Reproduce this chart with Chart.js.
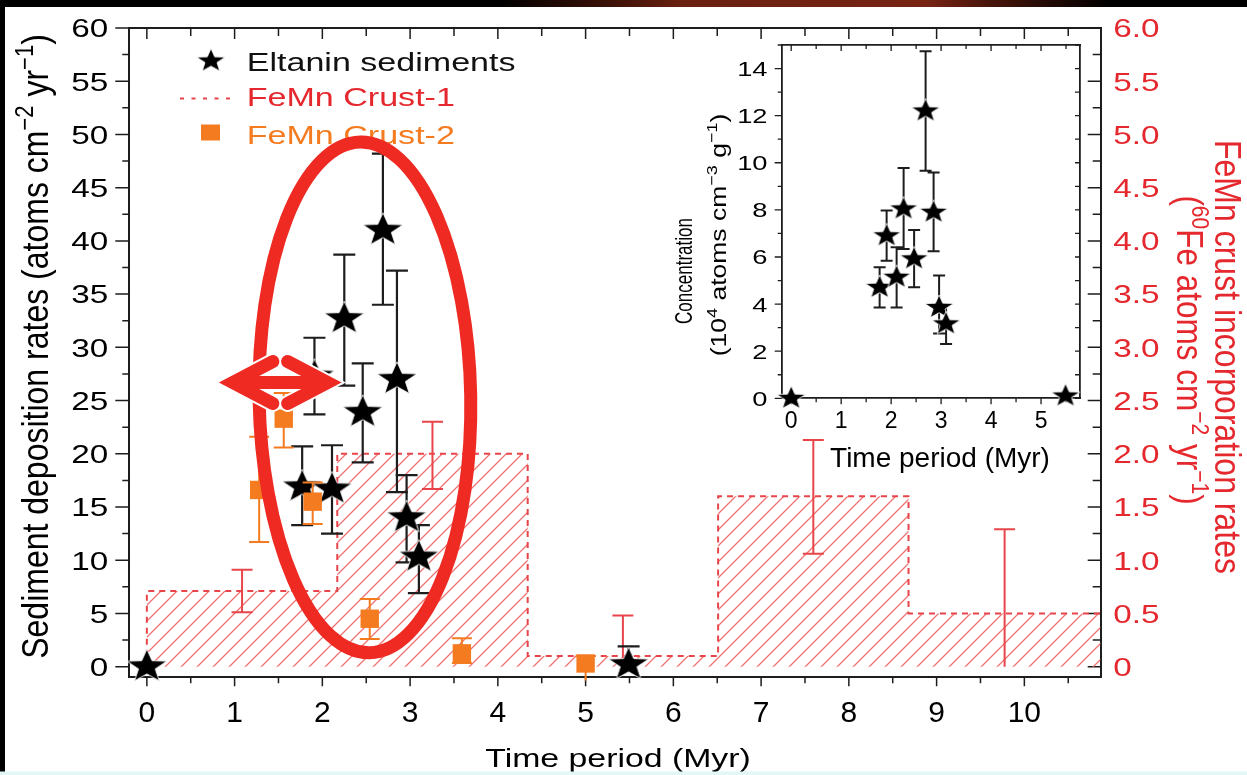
<!DOCTYPE html>
<html lang="en">
<head>
<meta charset="UTF-8">
<title>60Fe deposition and incorporation rates</title>
<style>
  html, body { margin: 0; padding: 0; background: #fff; overflow: hidden; }
  #wrap { position: relative; width: 1247px; height: 775px; }
  #mainChart { position: absolute; left: 0; top: 0; }
  #insetChart { position: absolute; left: 660px; top: 30px; }
</style>
</head>
<body>
<div id="wrap">
  <canvas id="mainChart" width="1247" height="775"></canvas>
  <canvas id="insetChart" width="440" height="445"></canvas>
</div>
<script src="https://cdn.jsdelivr.net/npm/chart.js"></script>
<script>
// Eltanin sediment samples, time period in Myr
const eltTime   = [0, 1.77, 1.91, 2.11, 2.25, 2.46, 2.69, 2.85, 2.96, 3.1, 5.49];
// deposition rates (atoms cm^-2 yr^-1) with error range
const eltRate   = [0, 16.9, 27.3, 16.7, 32.7, 23.9, 41.0, 27.0, 14.0, 10.3, 0.2];
const eltRateLo = [0, 13.3, 23.7, 12.5, 26.4, 19.2, 34.0, 16.4, 9.8, 6.9, 0];
const eltRateHi = [0, 20.7, 30.9, 20.8, 38.7, 28.5, 48.2, 37.2, 18.0, 13.3, 1.9];
// concentrations for the inset (10^4 atoms cm^-3 g^-1)
const eltConc   = [0, 4.71, 6.9, 5.14, 8.04, 5.92, 12.2, 7.9, 3.86, 3.16, 0.1];
const eltConcLo = [0, 3.86, 5.84, 3.86, 6.34, 4.71, 9.66, 6.24, 2.75, 2.31, 0.1];
const eltConcHi = [0, 5.56, 7.97, 6.41, 9.78, 7.15, 14.73, 9.59, 5.21, 4.0, 0.1];

// FeMn Crust-1: binned incorporation rates (right axis)
const crust1Edges = [0, 2.17, 4.34, 6.51, 8.68, 10.87];
const crust1Rate  = [0.71, 2.0, 0.1, 1.6, 0.5];
const crust1Lo    = [0.51, 1.67, 0, 1.06, 0];
const crust1Hi    = [0.91, 2.3, 0.48, 2.13, 1.29];

// FeMn Crust-2 (right axis)
const crust2Time = [1.28, 1.56, 1.89, 2.54, 3.59, 5.0];
const crust2Rate = [1.66, 2.33, 1.55, 0.45, 0.125, 0.03];
const crust2Lo   = [1.17, 2.06, 1.34, 0.26, 0.035, -0.13];
const crust2Hi   = [2.16, 2.57, 1.73, 0.635, 0.266, 0.1];

// tick labels
const timeTicks      = [0, 1, 2, 3, 4, 5, 6, 7, 8, 9, 10];
const rateTicks      = [0, 5, 10, 15, 20, 25, 30, 35, 40, 45, 50, 55, 60];
const crustTicks     = ['0', '0.5', '1.0', '1.5', '2.0', '2.5', '3.0', '3.5', '4.0', '4.5', '5.0', '5.5', '6.0'];
const insetTimeTicks = [0, 1, 2, 3, 4, 5];
const concTicks      = [0, 2, 4, 6, 8, 10, 12, 14];

const RED = '#e5282d';
const CRUST1 = '#e8454a';
const ORANGE = '#f47b20';
const MARK = '#ee2a23';
const INK = '#1d1d1d';
const SANS = '"Liberation Sans", Arial, sans-serif';

// text runs with optional superscripts, stretched along (sx) and across (sy)
function rich(ctx, parts, x, y, o) {
  ctx.save();
  ctx.translate(x, y);
  if (o.rot) ctx.rotate(o.rot);
  ctx.scale(o.sx || 1, o.sy || 1);
  ctx.fillStyle = o.color || '#000';
  ctx.textBaseline = 'alphabetic';
  ctx.textAlign = 'left';
  const fontFor = p => (p.sup ? Math.round(o.size * 0.68) : o.size) + 'px ' + SANS;
  let total = 0;
  parts.forEach(p => { ctx.font = fontFor(p); total += ctx.measureText(p.t).width; });
  let cx = o.align === 'center' ? -total / 2 : o.align === 'right' ? -total : 0;
  parts.forEach(p => {
    ctx.font = fontFor(p);
    ctx.fillText(p.t, cx, p.sup ? -o.size * 0.42 : 0);
    cx += ctx.measureText(p.t).width;
  });
  ctx.restore();
}

// tick marks on one edge of the plot area; negative length points inward
function marks(ctx, scale, values, len, side) {
  const a = scale.chart.chartArea;
  ctx.beginPath();
  values.forEach(v => {
    const p = scale.getPixelForValue(v);
    if (side === 'left')   { ctx.moveTo(a.left, p);   ctx.lineTo(a.left - len, p); }
    if (side === 'right')  { ctx.moveTo(a.right, p);  ctx.lineTo(a.right + len, p); }
    if (side === 'top')    { ctx.moveTo(p, a.top);    ctx.lineTo(p, a.top - len); }
    if (side === 'bottom') { ctx.moveTo(p, a.bottom); ctx.lineTo(p, a.bottom + len); }
  });
  ctx.stroke();
}

function starImage(rx, ry) {
  const c = document.createElement('canvas');
  c.width = Math.ceil(rx * 2 + 4);
  c.height = Math.ceil(ry * 2 + 4);
  const g = c.getContext('2d');
  g.translate(c.width / 2, c.height / 2);
  g.beginPath();
  for (let i = 0; i < 10; i++) {
    const k = i % 2 ? 0.42 : 1;
    const a = -Math.PI / 2 + i * Math.PI / 5;
    g.lineTo(rx * k * Math.cos(a), ry * k * Math.sin(a));
  }
  g.closePath();
  g.fillStyle = '#000';
  g.fill();
  g.strokeStyle = 'rgba(255,255,255,0.85)';
  g.lineWidth = 1;
  g.stroke();
  return c;
}

function hatchPattern(ctx) {
  const s = 16, c = document.createElement('canvas');
  c.width = c.height = s;
  const g = c.getContext('2d');
  g.strokeStyle = '#ee7272';
  g.lineWidth = 1.3;
  g.beginPath();
  g.moveTo(0, s); g.lineTo(s, 0);
  g.moveTo(-2, 2); g.lineTo(2, -2);
  g.moveTo(s - 2, s + 2); g.lineTo(s + 2, s - 2);
  g.stroke();
  return ctx.createPattern(c, 'repeat');
}

function axis(pos, min, max, size, bw) {
  return {
    type: 'linear', position: pos, min: min, max: max,
    grid: { display: false },
    ticks: { display: false },
    border: { display: true, color: INK, width: bw },
    afterFit(s) {
      if (pos === 'left' || pos === 'right') s.width = size; else s.height = size;
    }
  };
}

// vertical error bars, drawn just before their dataset
const errorBars = {
  id: 'errorBars',
  beforeDatasetDraw(chart, args) {
    const ds = chart.data.datasets[args.index];
    if (!ds.errLo) return;
    const xs = chart.scales[args.meta.xAxisID], ys = chart.scales[args.meta.yAxisID];
    const ctx = chart.ctx;
    ctx.save();
    ctx.strokeStyle = ds.errColor;
    ctx.lineWidth = ds.errWidth;
    ctx.beginPath();
    ds.data.forEach((p, i) => {
      const lo = ds.errLo[i], hi = ds.errHi[i];
      if (hi - lo < 1e-6) return;
      const x = xs.getPixelForValue(p.x);
      const y1 = ys.getPixelForValue(lo), y2 = ys.getPixelForValue(hi);
      ctx.moveTo(x, y1); ctx.lineTo(x, y2);
      ctx.moveTo(x - ds.errCap, y2); ctx.lineTo(x + ds.errCap, y2);
      if (lo > 0) { ctx.moveTo(x - ds.errCap, y1); ctx.lineTo(x + ds.errCap, y1); }
    });
    ctx.stroke();
    ctx.restore();
  }
};

const starMain = starImage(21, 17.5);
const starSmall = starImage(15, 12.5);

// highlight around the 2-3 Myr signal and the double arrow
const ringCenter = { x: 2.485, y: 25.3 };
const ringRadius = { x: 1.206, y: 24.0 };
const arrowSpan = { from: 0.98, to: 2.06, y: 26.7 };

const halves = v => v.map(t => t + 0.5);

const mainDecor = {
  id: 'mainDecor',
  beforeDatasetsDraw(chart) {
    const { ctx, chartArea: a, scales: { x, y, y2 } } = chart;
    ctx.save();
    ctx.strokeStyle = INK;
    ctx.lineWidth = 1.5;
    marks(ctx, x, timeTicks, 9, 'bottom');
    marks(ctx, x, halves(timeTicks), 6, 'bottom');
    marks(ctx, x, timeTicks, -11, 'top');
    marks(ctx, x, halves(timeTicks), -8, 'top');
    marks(ctx, y, rateTicks, 14, 'left');
    marks(ctx, y, rateTicks.slice(0, -1).map(v => v + 2.5), 7, 'left');
    const crustVals = crustTicks.map(Number);
    marks(ctx, y2, crustVals, -13, 'right');
    marks(ctx, y2, crustVals.slice(0, -1).map(v => v + 0.25), -8, 'right');
    ctx.restore();

    timeTicks.forEach(v => rich(ctx, [{ t: String(v) }], x.getPixelForValue(v), a.bottom + 44.5,
      { size: 30, align: 'center', color: '#000' }));
    rateTicks.forEach(v => rich(ctx, [{ t: String(v) }], a.left - 21, y.getPixelForValue(v) + 9.3,
      { size: 26, sx: 1.28, align: 'right', color: '#000' }));
    crustTicks.forEach(s => rich(ctx, [{ t: s }], a.right + 12.5, y2.getPixelForValue(Number(s)) + 9.3,
      { size: 26, sx: 1.28, align: 'left', color: RED }));
  },
  afterDatasetsDraw(chart) {
    const { ctx, scales: { x, y } } = chart;
    const ds = chart.data.datasets;

    // legend
    ctx.drawImage(starSmall, 211 - starSmall.width / 2, 61 - starSmall.height / 2);
    rich(ctx, [{ t: ds[1].label }], 246.7, 70.5, { size: 26, sx: 1.31, color: '#111' });
    ctx.save();
    ctx.strokeStyle = CRUST1;
    ctx.lineWidth = 2;
    ctx.setLineDash([4, 7.5]);
    ctx.beginPath(); ctx.moveTo(180, 98.5); ctx.lineTo(232, 98.5); ctx.stroke();
    ctx.restore();
    rich(ctx, [{ t: ds[3].label }], 246.7, 106, { size: 26, sx: 1.31, color: RED });
    ctx.fillStyle = ORANGE;
    ctx.fillRect(201, 124.5, 19, 16);
    rich(ctx, [{ t: ds[0].label }], 246.7, 143.5, { size: 26, sx: 1.31, color: ORANGE });

    // ellipse
    const cx = x.getPixelForValue(ringCenter.x), cy = y.getPixelForValue(ringCenter.y);
    const rx = x.getPixelForValue(ringCenter.x + ringRadius.x) - cx;
    const ry = cy - y.getPixelForValue(ringCenter.y + ringRadius.y);
    ctx.save();
    ctx.strokeStyle = MARK;
    ctx.lineWidth = 13;
    ctx.beginPath();
    ctx.ellipse(cx, cy, rx, ry, -0.018, 0, Math.PI * 2);
    ctx.stroke();

    // double arrow
    const x1 = x.getPixelForValue(arrowSpan.from), x2 = x.getPixelForValue(arrowSpan.to);
    const ay = y.getPixelForValue(arrowSpan.y);
    const head = 40, spread = 21;
    const path = () => {
      ctx.beginPath();
      ctx.moveTo(x1, ay); ctx.lineTo(x2, ay);
      ctx.moveTo(x1 + head, ay - spread); ctx.lineTo(x1, ay); ctx.lineTo(x1 + head, ay + spread);
      ctx.moveTo(x2 - head, ay - spread); ctx.lineTo(x2, ay); ctx.lineTo(x2 - head, ay + spread);
    };
    ctx.lineCap = 'round';
    ctx.lineJoin = 'miter';
    path(); ctx.strokeStyle = '#fff'; ctx.lineWidth = 17; ctx.stroke();
    path(); ctx.strokeStyle = MARK; ctx.lineWidth = 13; ctx.stroke();
    ctx.restore();
  },
  afterDraw(chart) {
    const { ctx, chartArea: a } = chart;
    rich(ctx, [{ t: 'Time period (Myr)' }], (a.left + a.right) / 2 + 3, 766.8,
      { size: 26, sx: 1.3, align: 'center', color: '#000' });
    rich(ctx, [{ t: 'Sediment deposition rates (atoms cm' }, { t: '\u22122', sup: true },
      { t: ' yr' }, { t: '\u22121', sup: true }, { t: ')' }], 48, 346.5,
      { size: 32, sy: 1.15, rot: -Math.PI / 2, align: 'center', color: '#000' });
    rich(ctx, [{ t: 'FeMn crust incorporation rates' }], 1215, 357,
      { size: 32, sy: 1.15, rot: Math.PI / 2, align: 'center', color: RED });
    rich(ctx, [{ t: '(' }, { t: '60', sup: true }, { t: 'Fe atoms cm' }, { t: '\u22122', sup: true },
      { t: ' yr' }, { t: '\u22121', sup: true }, { t: ')' }], 1177, 350,
      { size: 31.5, sy: 1.15, rot: Math.PI / 2, align: 'center', color: RED });

    // slide edges around the figure
    const W = chart.width;
    ctx.save();
    ctx.fillStyle = '#000';
    ctx.fillRect(0, 0, W, 7);
    const glow = ctx.createLinearGradient(500, 0, 1110, 0);
    glow.addColorStop(0, 'rgba(110,30,15,0)');
    glow.addColorStop(0.3, 'rgba(125,38,18,0.85)');
    glow.addColorStop(0.7, 'rgba(140,42,22,0.85)');
    glow.addColorStop(1, 'rgba(110,30,15,0)');
    ctx.fillStyle = glow;
    ctx.fillRect(0, 0, W, 7);
    ctx.fillStyle = '#000';
    ctx.fillRect(0, 0, 5, 772);
    ctx.fillStyle = '#e3f7f7';
    ctx.fillRect(0, 771.5, W, 4);
    ctx.restore();
  }
};

const mainCtx = document.getElementById('mainChart').getContext('2d');

// stepped outline of the Crust-1 bins
const crust1Steps = [{ x: crust1Edges[0], y: 0 }]
  .concat(crust1Rate.map((r, i) => ({ x: crust1Edges[i], y: r })))
  .concat([{ x: crust1Edges[crust1Edges.length - 1], y: crust1Rate[crust1Rate.length - 1] }]);
const crust1Mid = crust1Rate.map((r, i) => ({ x: (crust1Edges[i] + crust1Edges[i + 1]) / 2, y: r }));

new Chart(mainCtx, {
  type: 'scatter',
  data: {
    datasets: [
      {
        label: 'FeMn Crust-2',
        data: crust2Time.map((t, i) => ({ x: t, y: crust2Rate[i] })),
        yAxisID: 'y2', pointStyle: 'rect', pointRadius: 13, pointBorderWidth: 0,
        backgroundColor: ORANGE, clip: false, order: 0,
        errLo: crust2Lo, errHi: crust2Hi, errColor: ORANGE, errWidth: 2, errCap: 10
      },
      {
        label: 'Eltanin sediments',
        data: eltTime.map((t, i) => ({ x: t, y: eltRate[i] })),
        yAxisID: 'y', pointStyle: starMain, pointRadius: 20, clip: false, order: 1,
        errLo: eltRateLo, errHi: eltRateHi, errColor: INK, errWidth: 2.2, errCap: 11
      },
      {
        label: 'FeMn Crust-1 range',
        data: crust1Mid,
        yAxisID: 'y2', pointRadius: 0, order: 3,
        errLo: crust1Lo, errHi: crust1Hi, errColor: CRUST1, errWidth: 2, errCap: 10.5
      },
      {
        type: 'line',
        label: 'FeMn Crust-1',
        data: crust1Steps,
        yAxisID: 'y2', stepped: true,
        borderColor: CRUST1, borderWidth: 2, borderDash: [6, 5],
        backgroundColor: hatchPattern(mainCtx), fill: 'origin',
        pointRadius: 0, order: 4
      }
    ]
  },
  options: {
    responsive: false,
    animation: false,
    events: [],
    layout: { padding: { top: 28, left: 0, right: 0, bottom: 0 } },
    plugins: { legend: { display: false }, tooltip: { enabled: false } },
    scales: {
      x: axis('bottom', -0.2, 10.87, 97.7, 2),
      xTop: axis('top', -0.2, 10.87, 0, 2),
      y: axis('left', -1, 60, 129.3, 2),
      y2: axis('right', -0.1, 6, 146.3, 2)
    }
  },
  plugins: [errorBars, mainDecor]
});

const insetDecor = {
  id: 'insetDecor',
  beforeDatasetsDraw(chart) {
    const { ctx, chartArea: a, scales: { x, y } } = chart;
    ctx.save();
    ctx.strokeStyle = INK;
    ctx.lineWidth = 1.3;
    marks(ctx, x, insetTimeTicks, 6, 'bottom');
    marks(ctx, x, halves(insetTimeTicks), 4, 'bottom');
    marks(ctx, x, insetTimeTicks, -6, 'top');
    marks(ctx, x, halves(insetTimeTicks), -4, 'top');
    marks(ctx, y, concTicks, 7, 'left');
    marks(ctx, y, concTicks.map(v => v + 1), 4, 'left');
    marks(ctx, y, concTicks.concat(concTicks.map(v => v + 1)), -5, 'right');
    ctx.restore();

    insetTimeTicks.forEach(v => rich(ctx, [{ t: String(v) }], x.getPixelForValue(v), a.bottom + 30,
      { size: 23, align: 'center', color: '#000' }));
    concTicks.forEach(v => rich(ctx, [{ t: String(v) }], a.left - 14.2, y.getPixelForValue(v) + 7.5,
      { size: 21, sx: 1.3, align: 'right', color: '#000' }));

    rich(ctx, [{ t: 'Time period (Myr)' }], 280, 437, { size: 28, align: 'center', color: '#000' });
    rich(ctx, [{ t: 'Concentration' }], 32, 241,
      { size: 17, sy: 1.4, rot: -Math.PI / 2, align: 'center', color: '#000' });
    rich(ctx, [{ t: '(10' }, { t: '4', sup: true }, { t: ' atoms cm' }, { t: '\u22123', sup: true },
      { t: ' g' }, { t: '\u22121', sup: true }, { t: ')' }], 66, 205,
      { size: 26.5, sy: 0.85, rot: -Math.PI / 2, align: 'center', color: '#000' });
  }
};

new Chart(document.getElementById('insetChart').getContext('2d'), {
  type: 'scatter',
  data: {
    datasets: [{
      label: 'Eltanin sediments',
      data: eltTime.map((t, i) => ({ x: t, y: eltConc[i] })),
      pointStyle: starSmall, pointRadius: 14, clip: false,
      errLo: eltConcLo, errHi: eltConcHi, errColor: INK, errWidth: 2, errCap: 6
    }]
  },
  options: {
    responsive: false,
    animation: false,
    events: [],
    layout: { padding: { top: 14, right: 20, left: 0, bottom: 0 } },
    plugins: { legend: { display: false }, tooltip: { enabled: false } },
    scales: {
      x: axis('bottom', -0.19, 5.78, 76.7, 1.8),
      xTop: axis('top', -0.19, 5.78, 0, 1.8),
      y: axis('left', 0, 15, 121.7, 1.8),
      yRight: axis('right', 0, 15, 0, 1.8)
    }
  },
  plugins: [errorBars, insetDecor]
});
</script>
</body>
</html>
